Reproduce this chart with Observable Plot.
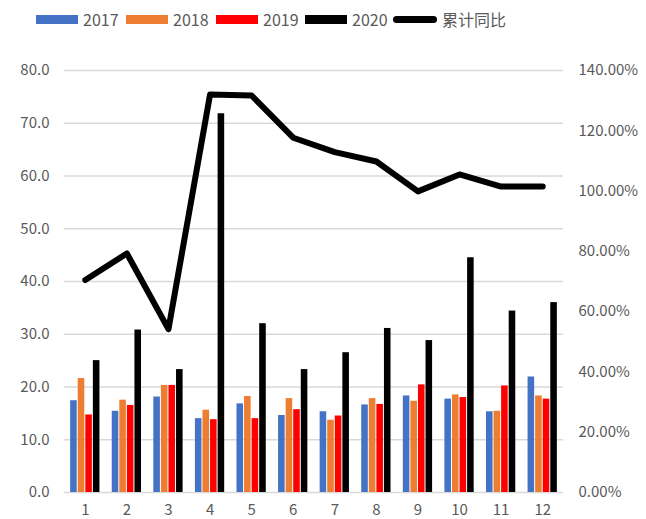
<!DOCTYPE html>
<html>
<head>
<meta charset="utf-8">
<script src="https://cdn.jsdelivr.net/npm/d3@7"></script>
<script src="https://cdn.jsdelivr.net/npm/@observablehq/plot@0.6"></script>
<style>
  body { margin: 0; background: #fff; }
  #wrap { position: relative; width: 646px; height: 519px; font-family: "Noto Sans CJK SC", "Liberation Sans", sans-serif; }
  #legend { position: relative; height: 36px; }
  .item { position: absolute; top: 9px; display: flex; align-items: center; font-size: 16px; color: #595959; line-height: 20px; }
  .sw { width: 42px; height: 9px; margin-right: 5px; }
  .ln { width: 44px; height: 7px; border-radius: 4px; background: #000; margin-right: 5px; }
</style>
</head>
<body>
<div id="wrap">
  <div id="legend"></div>
  <div id="chart"></div>
</div>
<script>
const months = [1, 2, 3, 4, 5, 6, 7, 8, 9, 10, 11, 12];
const v2017 = [17.4, 15.4, 18.1, 14.0, 16.8, 14.6, 15.3, 16.6, 18.3, 17.7, 15.3, 21.9];
const v2018 = [21.6, 17.5, 20.3, 15.6, 18.2, 17.8, 13.7, 17.8, 17.3, 18.5, 15.4, 18.3];
const v2019 = [14.7, 16.5, 20.3, 13.8, 14.0, 15.7, 14.5, 16.7, 20.4, 18.0, 20.2, 17.7];
const v2020 = [25.0, 30.8, 23.3, 71.8, 32.0, 23.3, 26.5, 31.1, 28.8, 44.5, 34.4, 36.0];
const cumYoY = [70.5, 79.3, 54.2, 132.0, 131.7, 117.7, 112.9, 109.8, 99.9, 105.5, 101.5, 101.5]; // percent
const seriesNames = ["2017", "2018", "2019", "2020"];
const lineName = "累计同比";
const colors = ["#4472C4", "#ED7D31", "#FF0000", "#000000"];
const leftTicks = [0, 10, 20, 30, 40, 50, 60, 70, 80];
const rightTicks = [0, 20, 40, 60, 80, 100, 120, 140];

const leftMax = 80, rightMax = 140;
const toLeft = p => p * leftMax / rightMax;

// legend
const legend = document.getElementById("legend");
const legendX = [36, 126, 216, 305];
seriesNames.forEach((n, i) => {
  const d = document.createElement("div");
  d.className = "item";
  d.style.left = legendX[i] + "px";
  d.innerHTML = `<div class="sw" style="background:${colors[i]}"></div><span>${n}</span>`;
  legend.appendChild(d);
});
{
  const d = document.createElement("div");
  d.className = "item";
  d.style.left = "393px";
  d.innerHTML = `<div class="ln"></div><span>${lineName}</span>`;
  legend.appendChild(d);
}

const allSeries = [v2017, v2018, v2019, v2020];
const step = 0.182, bw = 0.158;
const bars = allSeries.map((vals, si) => months.map((m, i) => ({
  month: m, value: vals[i], off: (si - 1.5) * step
})));
const lineData = months.map((m, i) => ({month: m, p: cumYoY[i]}));

const chart = Plot.plot({
  width: 646,
  height: 483,
  marginTop: 34,
  marginBottom: 27,
  marginLeft: 64,
  marginRight: 83,
  style: {fontSize: "15px", fontFamily: "'Noto Sans CJK SC', 'Liberation Sans', sans-serif", color: "#595959", background: "#fff"},
  x: {type: "linear", domain: [0.5, 12.5]},
  y: {domain: [0, leftMax]},
  marks: [
    Plot.ruleY(leftTicks, {stroke: "#D9D9D9", strokeWidth: 1.3}),
    ...bars.map((data, si) => Plot.rectY(data, {
      x1: d => d.month + d.off - bw / 2,
      x2: d => d.month + d.off + bw / 2,
      y1: 0,
      y2: "value",
      fill: colors[si]
    })),
    Plot.lineY(lineData, {x: "month", y: d => toLeft(d.p), stroke: "#000", strokeWidth: 6, strokeLinejoin: "round", strokeLinecap: "round"}),
    Plot.axisY(leftTicks, {anchor: "left", label: null, tickSize: 0, tickPadding: 15, tickFormat: d => d.toFixed(1), fill: "#595959"}),
    Plot.axisY(rightTicks.map(toLeft), {anchor: "right", label: null, tickSize: 0, tickPadding: 15, tickFormat: v => (v * rightMax / leftMax).toFixed(2) + "%", fill: "#595959"}),
    Plot.axisX(months, {anchor: "bottom", label: null, tickSize: 0, tickPadding: 12, tickFormat: d => String(d), fill: "#595959"})
  ]
});
document.getElementById("chart").appendChild(chart);
</script>
</body>
</html>
